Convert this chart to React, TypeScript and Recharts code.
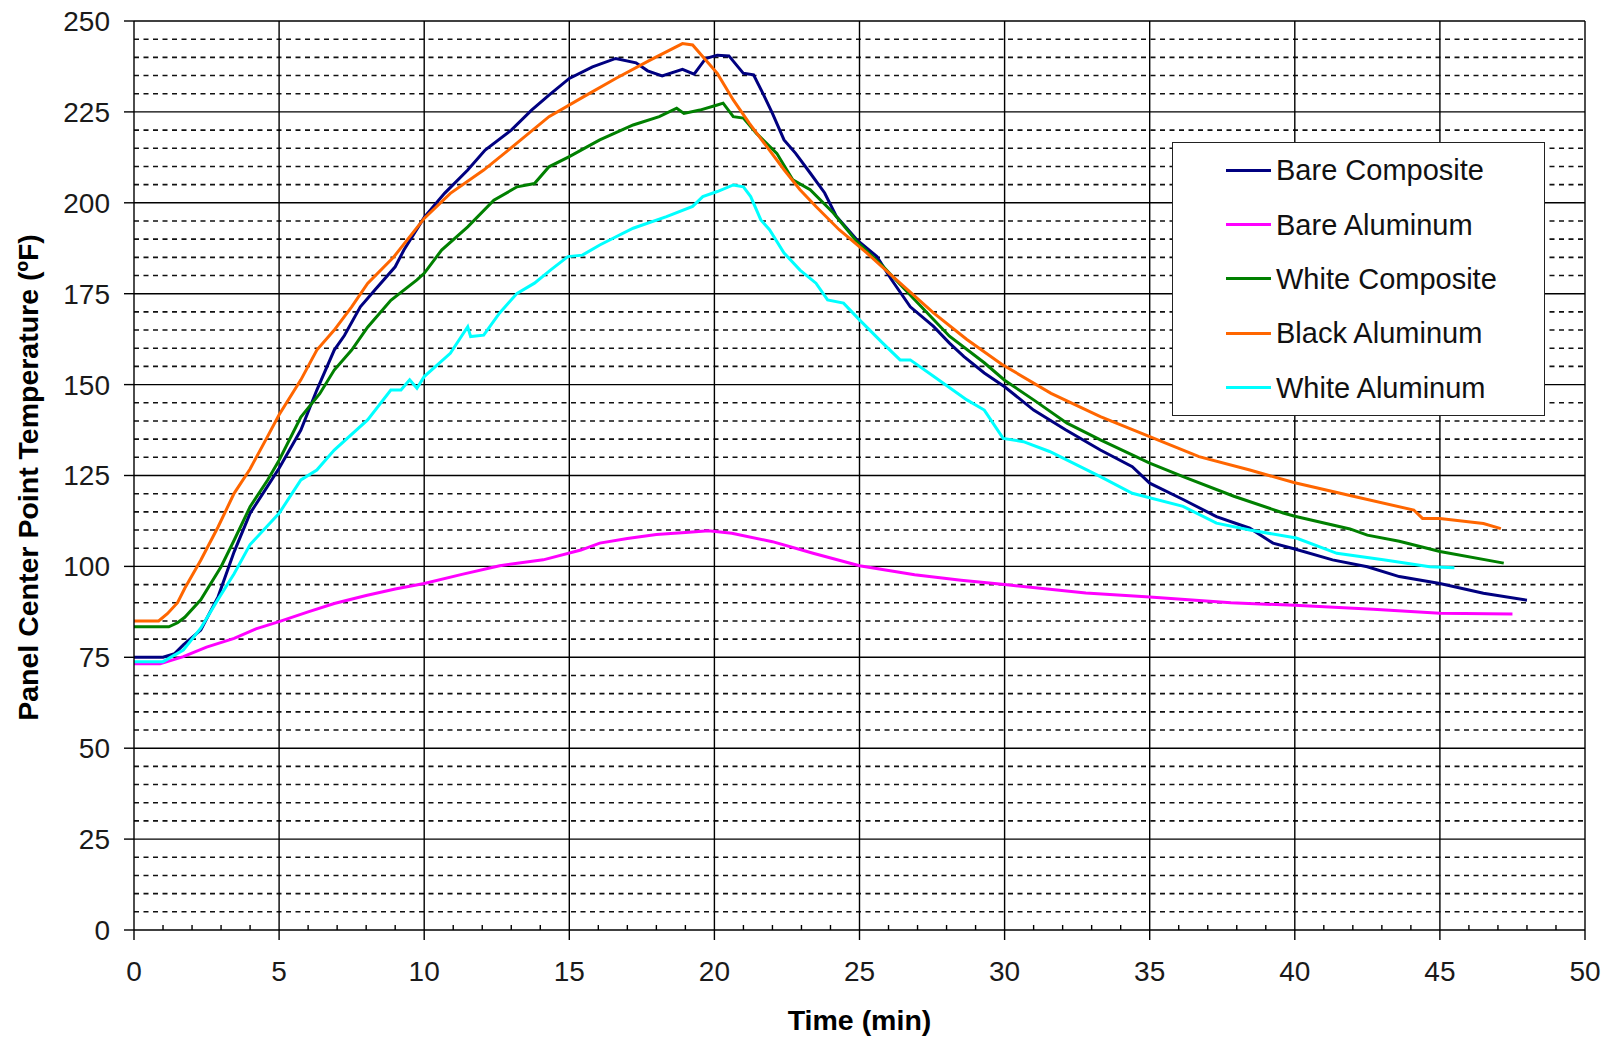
import React from 'react';
import { LineChart, Line, XAxis, YAxis, ReferenceLine, Legend, Label } from 'recharts';

const FONT = '"Liberation Sans", Arial, sans-serif';

// [time (min), temperature (ºF)]
const bareComposite: [number, number][] = [
  [0, 75], [1.0, 75], [1.4, 76], [1.7, 78.4], [2.3, 82.5], [2.9, 91.7], [3.45, 104], [4.0, 114.6], [4.6, 122],
  [5.0, 127], [5.75, 137.5], [6.3, 148.5], [6.9, 159.5], [7.25, 163.5], [7.8, 171.4], [8.3, 176], [9.0, 182.4],
  [9.3, 187], [10.0, 196], [10.7, 202.6], [11.5, 209], [12.1, 214.5], [13.0, 220], [13.7, 225.5], [14.3, 229.6],
  [15.0, 234.2], [15.8, 237.4], [16.6, 239.7], [17.3, 238.5], [17.7, 236.3], [18.2, 234.9], [18.9, 236.7],
  [19.3, 235.4], [19.7, 239.7], [20.1, 240.6], [20.5, 240.4], [21.0, 235.6], [21.35, 235.2], [21.7, 229.6],
  [22.0, 224.6], [22.4, 217.3], [22.8, 213.6], [23.3, 208.2], [23.8, 202.7], [24.2, 196.3], [24.9, 189.9],
  [25.6, 185.2], [26.1, 178.9], [26.75, 171.4], [27.55, 166], [28.1, 161.4], [28.6, 157.7], [29.3, 153.2],
  [30.0, 149.4], [31.0, 143], [32.1, 137.6], [33.3, 132], [34.4, 127.4], [35.0, 122.9], [36.15, 118.4],
  [37.3, 113.7], [38.45, 110.5], [39.25, 106.4], [40.0, 104.8], [41.3, 101.8], [42.5, 99.9], [43.6, 97.2],
  [45.0, 95.3], [46.5, 92.6], [48.0, 90.7],
];

const bareAluminum: [number, number][] = [
  [0, 73.2], [0.9, 73.2], [1.7, 75.2], [2.5, 77.8], [3.45, 80.2], [4.2, 82.8], [5.0, 84.8], [6.0, 87.5],
  [6.9, 89.8], [8.0, 92], [9.0, 93.8], [10.0, 95.3], [11.3, 97.8], [12.6, 100.2], [14.1, 101.8], [15.4, 104.5],
  [16.05, 106.4], [17.0, 107.7], [18.0, 108.8], [19.0, 109.3], [19.8, 109.8], [20.6, 109.1], [22.0, 106.8],
  [23.4, 103.6], [25.0, 100.2], [26.9, 97.7], [28.5, 96.2], [30.0, 95], [32.8, 92.7], [35.0, 91.6],
  [37.8, 90], [40.0, 89.3], [42.7, 88.2], [45.0, 87.1], [47.5, 86.9],
];

const whiteComposite: [number, number][] = [
  [0, 83.4], [1.2, 83.4], [1.5, 84.5], [1.75, 86], [2.3, 90.8], [3.0, 99.9], [3.45, 107.2], [4.0, 116.4],
  [4.6, 123.7], [5.0, 129.2], [5.75, 141.1], [6.4, 147.5], [6.9, 154], [7.5, 159.5], [8.05, 165.8],
  [8.85, 173.2], [9.75, 178.8], [10.0, 180.6], [10.6, 187], [11.5, 193.4], [12.4, 200.7], [13.2, 204.4],
  [13.8, 205.3], [14.3, 209.9], [15.0, 212.7], [16.05, 217.3], [17.2, 221.4], [18.1, 223.7], [18.7, 226],
  [18.95, 224.6], [19.5, 225.5], [20.1, 226.9], [20.3, 227.4], [20.65, 223.7], [21.0, 223.3], [21.45, 219.1],
  [22.15, 213.6], [22.7, 206.3], [23.3, 203.6], [24.1, 197.2], [24.9, 189.4], [25.8, 182.6], [27.0, 172.5],
  [28.1, 163.3], [29.3, 156], [30.0, 151.2], [31.0, 145.8], [32.15, 139.4], [33.3, 134.8], [35.0, 128.4],
  [36.15, 124.7], [37.9, 119.3], [39.6, 114.7], [40.0, 113.8], [41.9, 110.3], [42.5, 108.6], [43.6, 106.9],
  [45.0, 104.1], [47.2, 100.9],
];

const blackAluminum: [number, number][] = [
  [0, 85], [0.85, 85], [1.15, 87], [1.5, 90], [1.75, 94], [2.3, 101.7], [2.9, 110.9], [3.45, 120.1],
  [4.0, 126.8], [4.6, 135.7], [5.0, 141.7], [5.75, 151.3], [6.3, 159.5], [6.9, 165], [7.5, 171.4],
  [8.05, 177.8], [8.95, 185.1], [10.0, 195.7], [10.9, 202.6], [12.05, 209], [12.9, 214.5], [14.3, 223.7],
  [15.5, 229.2], [16.6, 234.2], [17.8, 239.3], [18.9, 243.8], [19.25, 243.4], [19.7, 239.3], [20.1, 235.6],
  [20.65, 228.3], [21.2, 221.9], [21.8, 215.5], [22.4, 209.1], [22.95, 203.6], [23.5, 199], [24.3, 192.6],
  [25.25, 186.2], [26.4, 177.9], [27.55, 169.7], [28.7, 162.4], [29.9, 155.6], [31.6, 147.6], [33.3, 141.2],
  [35.0, 135.7], [36.7, 130.2], [38.45, 126.5], [40.0, 123], [41.9, 119.5], [44.1, 115.5], [44.4, 113.2],
  [45.0, 113.2], [46.5, 111.8], [47.1, 110.4],
];

const whiteAluminum: [number, number][] = [
  [0, 73.8], [1.0, 73.8], [1.7, 77], [2.3, 83], [2.9, 91], [3.45, 98], [4.0, 106], [5.0, 114.6],
  [5.75, 123.8], [6.3, 126.5], [6.9, 132], [8.05, 140.3], [8.85, 148.5], [9.2, 148.5], [9.5, 151.3],
  [9.75, 149], [10.0, 152.2], [10.9, 158.6], [11.5, 165.9], [11.6, 163.2], [12.05, 163.6], [12.6, 169.7],
  [13.2, 175.1], [13.8, 177.9], [14.35, 181.5], [14.95, 185.2], [15.45, 185.6], [16.05, 188.4], [17.2, 193],
  [18.35, 196.2], [19.25, 199], [19.6, 201.7], [20.1, 203.1], [20.65, 204.9], [21.0, 204.4], [21.25, 201.7],
  [21.6, 195.3], [21.9, 192.6], [22.4, 186.2], [22.95, 181.5], [23.5, 177.9], [23.9, 173.3], [24.45, 172.4],
  [25.0, 167.8], [25.8, 161.4], [26.4, 156.8], [26.75, 156.8], [27.55, 152.3], [28.7, 145.8], [29.3, 143],
  [29.95, 135.2], [30.65, 134.3], [31.55, 131.6], [33.3, 124.7], [34.4, 120.1], [36.15, 116.5], [37.3, 111.9],
  [38.45, 110], [40.05, 107.8], [41.45, 103.6], [43.05, 101.8], [44.65, 99.9], [45.5, 99.6],
];

const series = [
  { name: 'Bare Composite', color: '#000080', points: bareComposite },
  { name: 'Bare Aluminum', color: '#FF00FF', points: bareAluminum },
  { name: 'White Composite', color: '#008000', points: whiteComposite },
  { name: 'Black Aluminum', color: '#FF6600', points: blackAluminum },
  { name: 'White Aluminum', color: '#00FFFF', points: whiteAluminum },
];

const tempTicks = [0, 25, 50, 75, 100, 125, 150, 175, 200, 225, 250];
const majorTemps = tempTicks.slice(1);
const minorTemps = Array.from({ length: 51 }, (_, i) => i * 5).filter((v) => v % 25 !== 0);
const timeMajor = [5, 10, 15, 20, 25, 30, 35, 40, 45, 50];
const minuteTicks = Array.from({ length: 51 }, (_, i) => i);

function TimeTick(props: any) {
  const { x, y, payload } = props;
  const major = payload.value % 5 === 0;
  return (
    <g>
      {major ? (
        <line x1={x} x2={x} y1={y} y2={y + 10} stroke="#000" strokeWidth={1.4} />
      ) : (
        <line x1={x} x2={x} y1={y - 5} y2={y} stroke="#000" strokeWidth={1.4} />
      )}
      {major && (
        <text x={x} y={y + 51} textAnchor="middle" fontSize={28} fill="#1a1a1a" fontFamily={FONT}>
          {payload.value}
        </text>
      )}
    </g>
  );
}

// legend keeps the series order (not the alphabetical payload order)
const renderLegend = () => (
  <div
    style={{
      width: 373,
      height: 274,
      boxSizing: 'border-box',
      border: '1.5px solid #222',
      background: '#fff',
      paddingTop: 0,
    }}
  >
    {series.map((s) => (
      <div key={s.name} style={{ display: 'flex', alignItems: 'center', height: 54.4, paddingLeft: 53 }}>
        <div style={{ width: 45, height: 3, background: s.color, marginRight: 5 }} />
        <span style={{ fontFamily: FONT, fontSize: 29, color: '#111', lineHeight: '32px' }}>{s.name}</span>
      </div>
    ))}
  </div>
);

export default function App() {
  return (
    <div style={{ position: 'absolute', left: 0, top: 0, background: '#fff' }}>
      <LineChart width={1613} height={1037} margin={{ top: 21, right: 28, bottom: 0, left: 0 }}>
        <XAxis
          dataKey="t"
          type="number"
          domain={[0, 50]}
          ticks={minuteTicks}
          interval={0}
          tickSize={0}
          tickMargin={0}
          tick={<TimeTick />}
          height={107}
          axisLine={{ stroke: '#000', strokeWidth: 1.4 }}
          allowDataOverflow
        >
          <Label
            content={(p: any) => {
              const vb = p.viewBox;
              return (
                <text x={vb.x + vb.width / 2} y={vb.y + 100} textAnchor="middle" fontSize={28.5} fontWeight="bold" fill="#000" fontFamily={FONT}>
                  Time (min)
                </text>
              );
            }}
          />
        </XAxis>
        <YAxis
          type="number"
          domain={[0, 250]}
          ticks={tempTicks}
          interval={0}
          width={134}
          tickSize={10}
          tickMargin={14}
          tick={{ fontSize: 28, fill: '#1a1a1a', fontFamily: FONT }}
          tickLine={{ stroke: '#000', strokeWidth: 1.4 }}
          axisLine={{ stroke: '#000', strokeWidth: 1.4 }}
          allowDataOverflow
        >
          <Label
            content={(p: any) => {
              const vb = p.viewBox;
              const cx = vb.x + 28;
              const cy = vb.y + vb.height / 2 + 2;
              return (
                <text
                  x={cx}
                  y={cy}
                  transform={`rotate(-90 ${cx} ${cy})`}
                  textAnchor="middle"
                  dominantBaseline="central"
                  fontSize={28.5}
                  fontWeight="bold"
                  fill="#000"
                  fontFamily={FONT}
                >
                  Panel Center Point Temperature (ºF)
                </text>
              );
            }}
          />
        </YAxis>
        {minorTemps.map((v) => (
          <ReferenceLine key={`mn${v}`} y={v} stroke="#111" strokeWidth={1.6} strokeDasharray="5 4.5" />
        ))}
        {majorTemps.map((v) => (
          <ReferenceLine key={`mj${v}`} y={v} stroke="#000" strokeWidth={1.4} />
        ))}
        {timeMajor.map((t) => (
          <ReferenceLine key={`vt${t}`} x={t} stroke="#000" strokeWidth={1.4} />
        ))}
        {series.map((s) => (
          <Line
            key={s.name}
            name={s.name}
            data={s.points.map(([t, v]) => ({ t, v }))}
            dataKey="v"
            type="linear"
            stroke={s.color}
            strokeWidth={3}
            dot={false}
            activeDot={false}
            isAnimationActive={false}
          />
        ))}
        <Legend
          layout="vertical"
          align="center"
          verticalAlign="middle"
          content={renderLegend}
          wrapperStyle={{ left: 1172, top: 142, width: 373, height: 274 }}
        />
      </LineChart>
    </div>
  );
}
